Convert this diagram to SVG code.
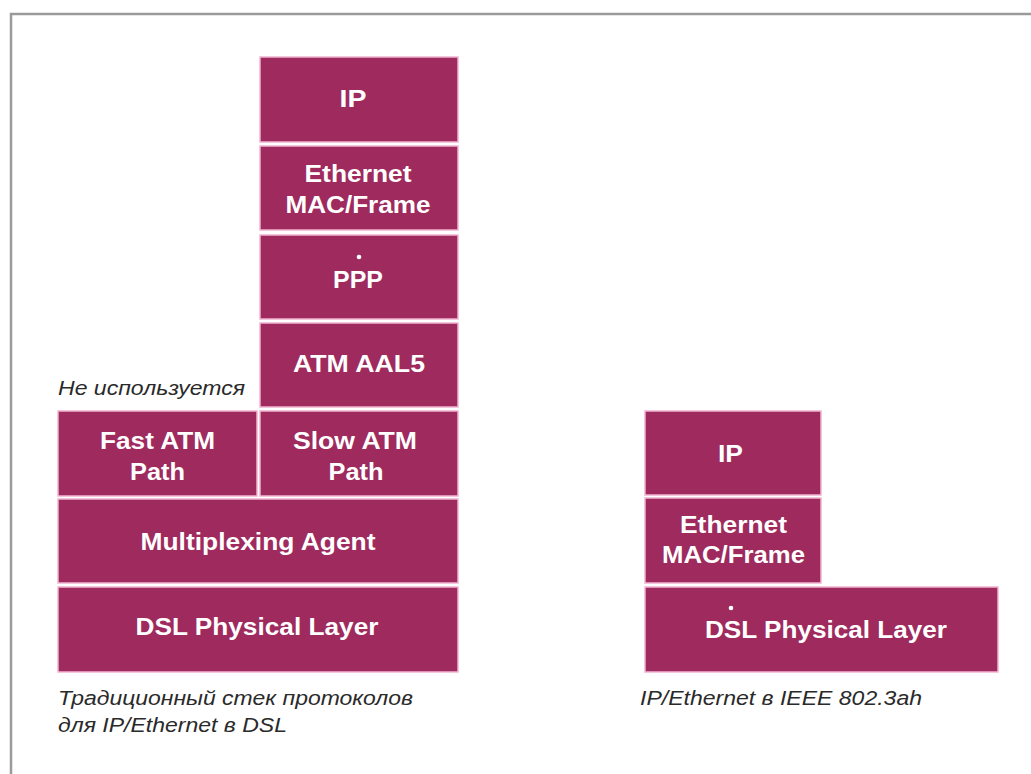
<svg xmlns="http://www.w3.org/2000/svg" width="1031" height="774" viewBox="0 0 1031 774">
<style>
.box{fill:#9e2a5e;stroke:#f0b4d0;stroke-width:1.5}
.lbl{font-family:"Liberation Sans",Arial,sans-serif;font-weight:bold;font-size:24.5px;fill:#ffffff;text-anchor:middle}
.cap{font-family:"Liberation Sans",Arial,sans-serif;font-style:italic;font-size:20.5px;fill:#2a2a2a}
.dot{fill:#ffffff}
</style>
<rect x="0" y="0" width="1031" height="774" fill="#ffffff"/>
<path d="M11,774 V14 H1031" fill="none" stroke="#9a9a9a" stroke-width="2.5"/>

<g id="left-ip"><rect class="box" x="260" y="57" width="198" height="85"/><text class="lbl" x="353" y="107" textLength="27" lengthAdjust="spacingAndGlyphs">IP</text></g>
<g id="left-ethernet"><rect class="box" x="260" y="146" width="198" height="84"/><text class="lbl" x="358" y="182" textLength="107" lengthAdjust="spacingAndGlyphs">Ethernet</text><text class="lbl" x="358" y="213" textLength="145" lengthAdjust="spacingAndGlyphs">MAC/Frame</text></g>
<g id="left-ppp"><rect class="box" x="260" y="235" width="198" height="84"/><circle class="dot" cx="359" cy="257" r="2.3"/><text class="lbl" x="358" y="288" textLength="50" lengthAdjust="spacingAndGlyphs">PPP</text></g>
<g id="left-aal5"><rect class="box" x="260" y="323" width="198" height="84"/><text class="lbl" x="359" y="372" textLength="132" lengthAdjust="spacingAndGlyphs">ATM AAL5</text></g>
<g id="left-fast"><rect class="box" x="58" y="411" width="199" height="85"/><text class="lbl" x="157.5" y="449" textLength="115" lengthAdjust="spacingAndGlyphs">Fast ATM</text><text class="lbl" x="157.5" y="480" textLength="55" lengthAdjust="spacingAndGlyphs">Path</text></g>
<g id="left-slow"><rect class="box" x="260" y="411" width="198" height="85"/><text class="lbl" x="355" y="449" textLength="124" lengthAdjust="spacingAndGlyphs">Slow ATM</text><text class="lbl" x="356" y="480" textLength="55" lengthAdjust="spacingAndGlyphs">Path</text></g>
<g id="left-mux"><rect class="box" x="58" y="499" width="400" height="84"/><text class="lbl" x="258" y="550" textLength="235" lengthAdjust="spacingAndGlyphs">Multiplexing Agent</text></g>
<g id="left-dsl"><rect class="box" x="58" y="587" width="400" height="85"/><text class="lbl" x="257" y="635" textLength="243" lengthAdjust="spacingAndGlyphs">DSL Physical Layer</text></g>

<g id="right-ip"><rect class="box" x="645" y="411" width="176" height="84"/><text class="lbl" x="730.5" y="462" textLength="25" lengthAdjust="spacingAndGlyphs">IP</text></g>
<g id="right-ethernet"><rect class="box" x="645" y="498" width="176" height="85"/><text class="lbl" x="733.5" y="533" textLength="107" lengthAdjust="spacingAndGlyphs">Ethernet</text><text class="lbl" x="733.5" y="563" textLength="143" lengthAdjust="spacingAndGlyphs">MAC/Frame</text></g>
<g id="right-dsl"><rect class="box" x="645" y="587" width="353" height="85"/><circle class="dot" cx="731" cy="608" r="2.3"/><text class="lbl" x="826" y="638" textLength="242" lengthAdjust="spacingAndGlyphs">DSL Physical Layer</text></g>

<g id="connectors"></g>

<g id="captions">
<text class="cap" x="58" y="395" textLength="187" lengthAdjust="spacingAndGlyphs">Не используется</text>
<text class="cap" x="58" y="705" textLength="355" lengthAdjust="spacingAndGlyphs">Традиционный стек протоколов</text>
<text class="cap" x="58" y="732" textLength="229" lengthAdjust="spacingAndGlyphs">для IP/Ethernet в DSL</text>
<text class="cap" x="640" y="705" textLength="282" lengthAdjust="spacingAndGlyphs">IP/Ethernet в IEEE 802.3ah</text>
</g>
</svg>
